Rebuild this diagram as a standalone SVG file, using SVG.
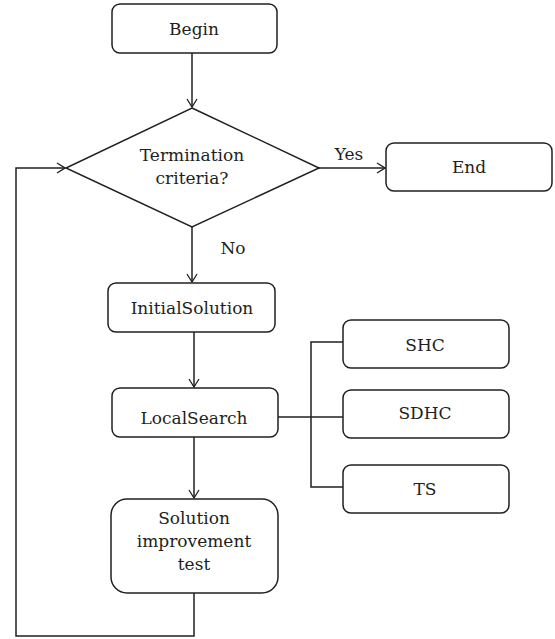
<svg xmlns="http://www.w3.org/2000/svg" width="555" height="639" viewBox="0 0 555 639">
<style>
.box{fill:#fff;stroke:#231f20;stroke-width:1.5}
.ln{fill:none;stroke:#231f20;stroke-width:1.5}
text{font-family:'DejaVu Serif','Liberation Serif',serif;font-size:17px;fill:#231f20;text-anchor:middle}
</style>
<defs>
<marker id="arr" markerWidth="10" markerHeight="12" refX="9" refY="6" orient="auto" markerUnits="userSpaceOnUse">
<path d="M1,1 L9,6 L1,11" fill="none" stroke="#231f20" stroke-width="1.3"/>
</marker>
</defs>
<rect width="555" height="639" fill="#fff"/>
<g id="connectors">
<line class="ln" x1="192" y1="53" x2="192" y2="107" marker-end="url(#arr)"/>
<line class="ln" x1="319" y1="168" x2="385" y2="168" marker-end="url(#arr)"/>
<line class="ln" x1="192" y1="227" x2="192" y2="282" marker-end="url(#arr)"/>
<line class="ln" x1="194" y1="332" x2="194" y2="387" marker-end="url(#arr)"/>
<line class="ln" x1="194" y1="437" x2="194" y2="498" marker-end="url(#arr)"/>
<polyline class="ln" points="278,417 343,417"/>
<polyline class="ln" points="343,342 311,342 311,487 343,487"/>
<polyline class="ln" points="194,593 194,636 16,636 16,168 65,168" marker-end="url(#arr)"/>
<text x="349" y="160">Yes</text>
<text x="233" y="254">No</text>
</g>
<g id="begin"><rect class="box" x="112" y="4" width="165" height="49" rx="8"/><text x="194" y="35">Begin</text></g>
<g id="termination"><polygon class="box" points="192,108 319,168 192,227 66,168"/><text x="192" y="161">Termination</text><text x="192" y="184">criteria?</text></g>
<g id="end"><rect class="box" x="386" y="143" width="166" height="48" rx="8"/><text x="469" y="173">End</text></g>
<g id="initialsolution"><rect class="box" x="108" y="283" width="167" height="49" rx="8"/><text x="192" y="314">InitialSolution</text></g>
<g id="localsearch"><rect class="box" x="112" y="388" width="166" height="49" rx="8"/><text x="194" y="424">LocalSearch</text></g>
<g id="shc"><rect class="box" x="343" y="320" width="166" height="48" rx="8"/><text x="425" y="351">SHC</text></g>
<g id="sdhc"><rect class="box" x="343" y="390" width="166" height="48" rx="8"/><text x="425" y="419">SDHC</text></g>
<g id="ts"><rect class="box" x="343" y="465" width="166" height="48" rx="8"/><text x="425" y="495">TS</text></g>
<g id="solution"><rect class="box" x="111" y="499" width="167" height="94" rx="16"/><text x="194" y="524">Solution</text><text x="194" y="547">improvement</text><text x="194" y="570">test</text></g>
</svg>
